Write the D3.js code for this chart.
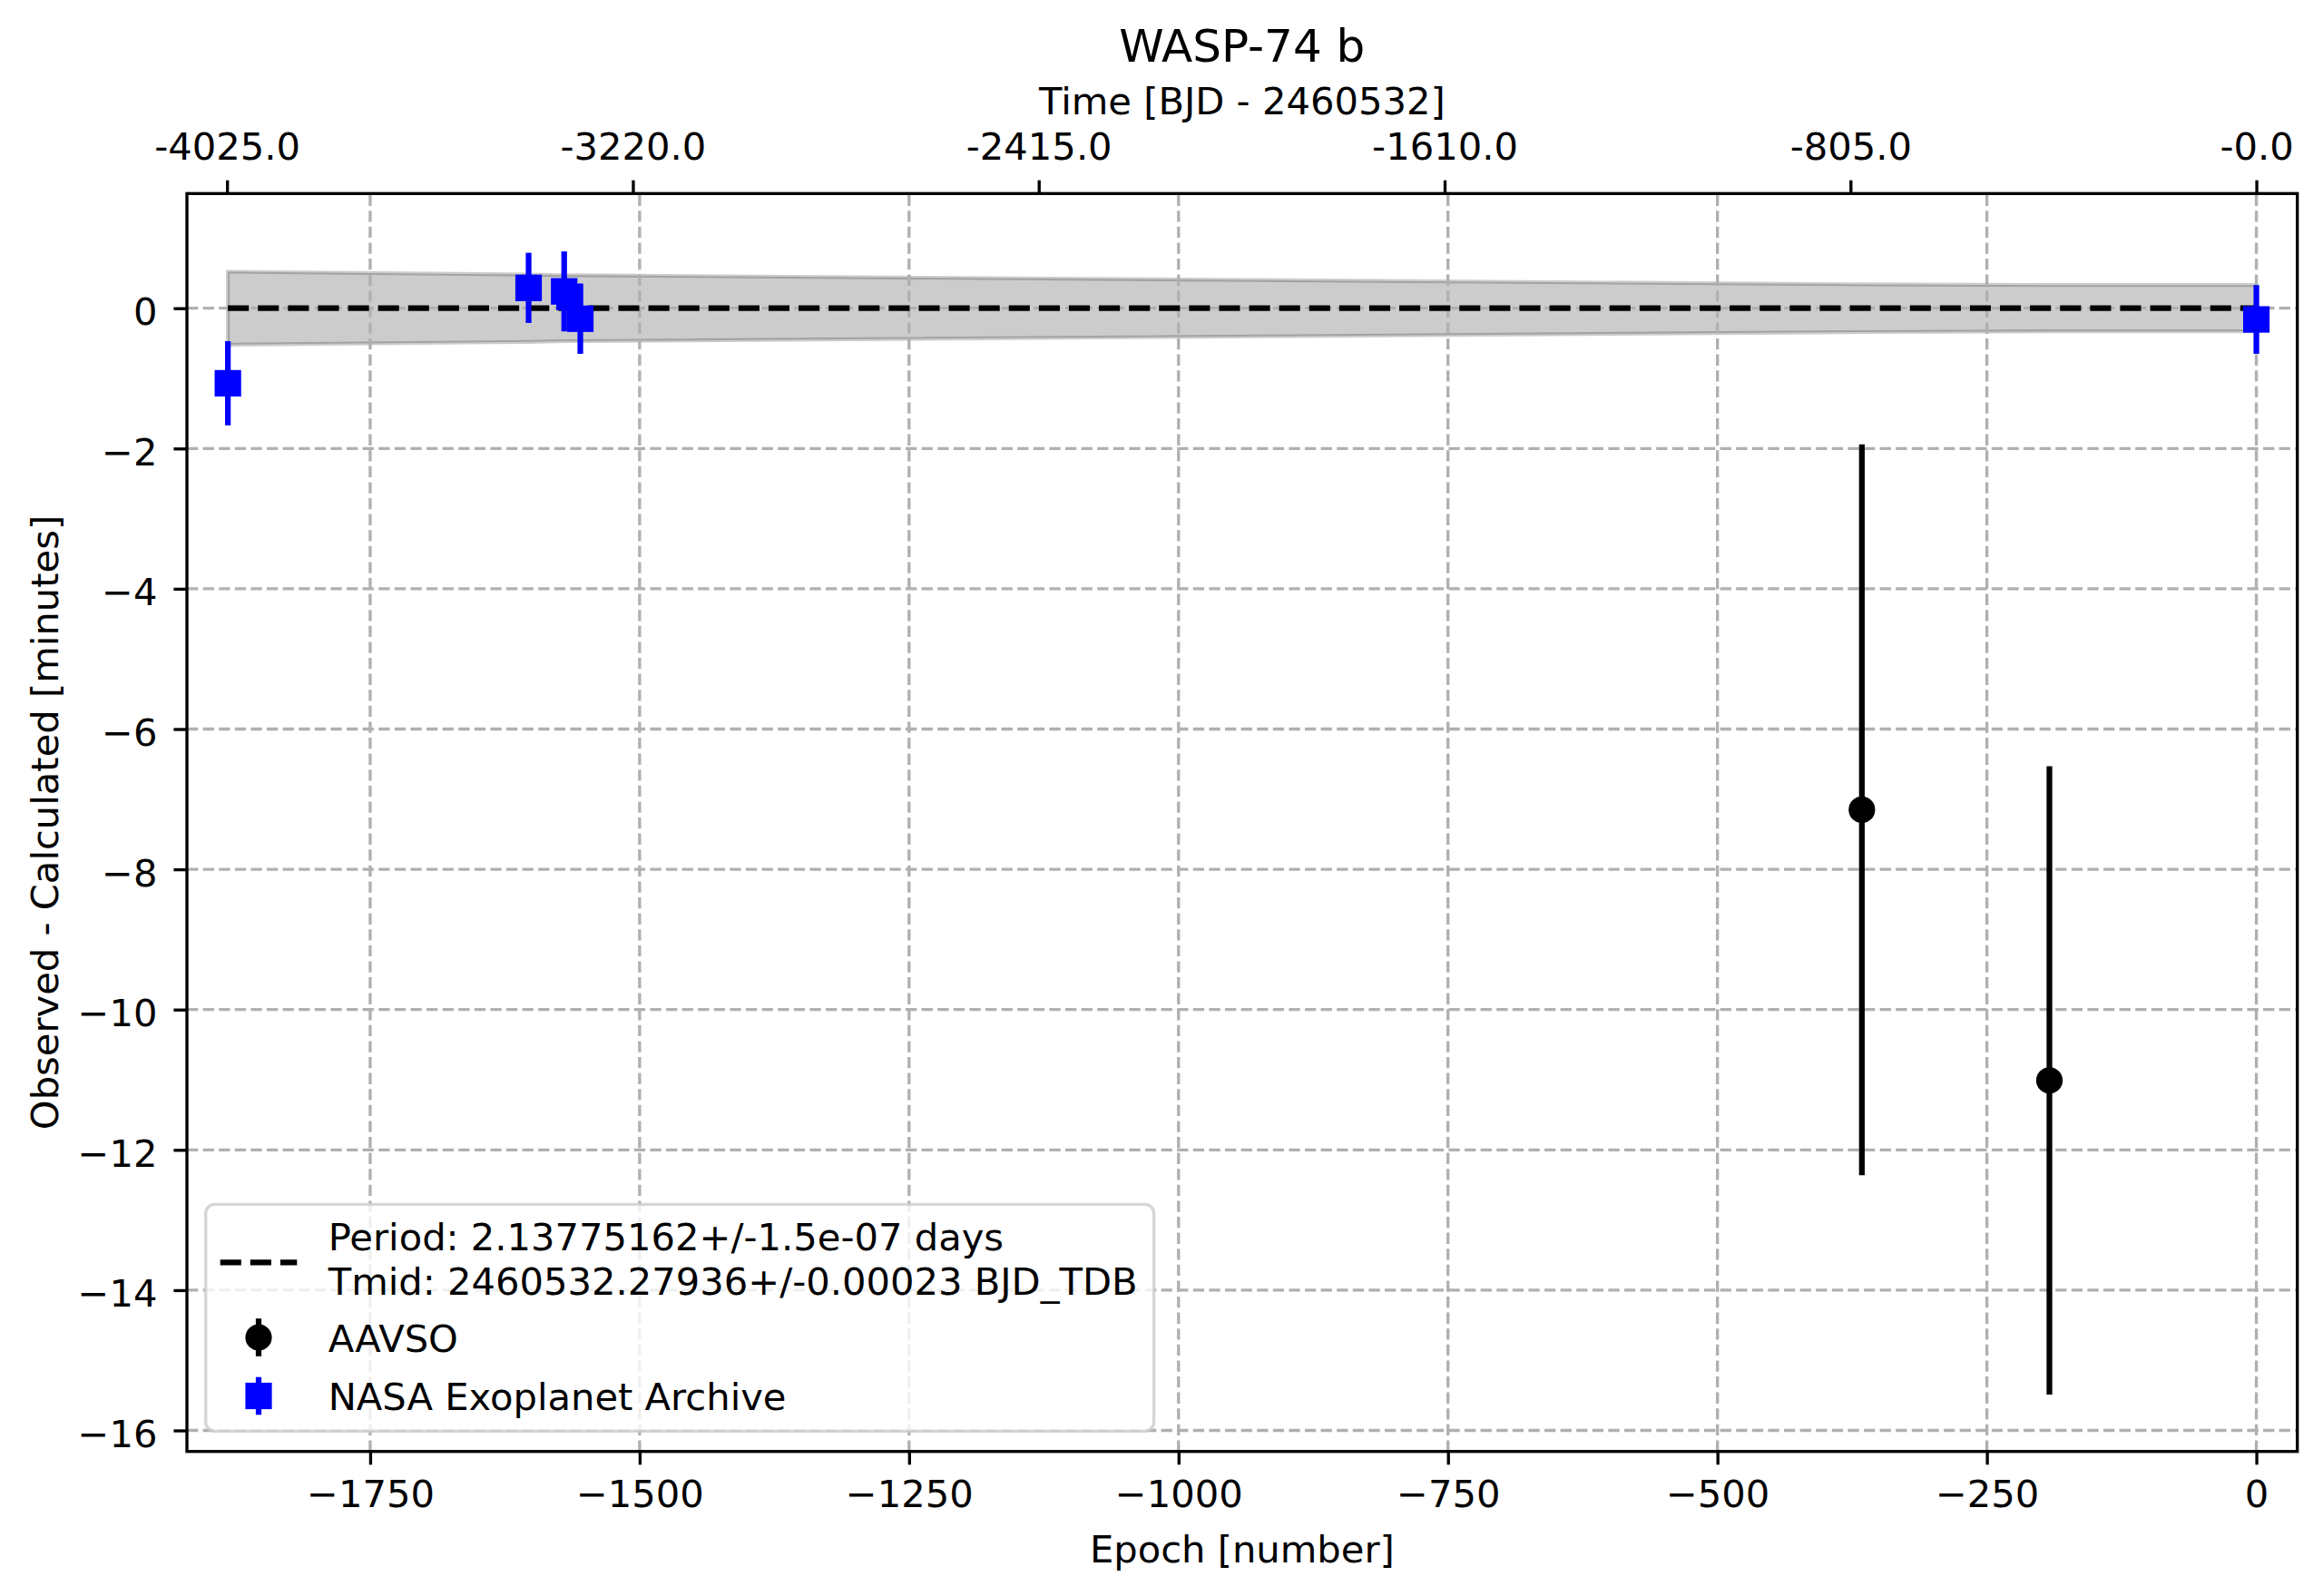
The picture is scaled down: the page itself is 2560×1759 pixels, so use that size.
<!DOCTYPE html>
<html>
<head>
<meta charset="utf-8">
<script src="https://cdn.jsdelivr.net/npm/d3@7"></script>
<style>
  body { margin: 0; background: #fff; }
  text { font-family: "DejaVu Sans", sans-serif; }
</style>
</head>
<body>
<div id="chart"></div>
<script>
const width = 2560;
const height = 1759;

// ephemeris used for the top (time) axis
const periodDays = 2.13775162;

// AAVSO observations (epoch, O-C minutes, 1-sigma error)
const aavsoEpoch = [-366, -192];
const aavsoOC = [-7.15, -11.01];
const aavsoErr = [5.21, 4.48];

// NASA Exoplanet Archive observations
const nasaEpoch = [-1882, -1603, -1570, -1565, -1555, 0];
const nasaOC = [-1.07, 0.29, 0.24, 0.16, -0.15, -0.16];
const nasaErr = [0.60, 0.50, 0.57, 0.15, 0.50, 0.49];

// ephemeris uncertainty band (half width, minutes) at each epoch
const bandEpoch = [-1882, -1603, -1570, -1565, -1555, -366, -192, 0];
const bandHalf = [0.52, 0.48, 0.47, 0.47, 0.47, 0.34, 0.33, 0.33];

// ticks
const xTicks = [-1750, -1500, -1250, -1000, -750, -500, -250, 0];
const yTicks = [-16, -14, -12, -10, -8, -6, -4, -2, 0];
const topTickTimes = [-4025, -3220, -2415, -1610, -805, 0];
const topTickLabels = ["-4025.0", "-3220.0", "-2415.0", "-1610.0", "-805.0", "-0.0"];

const legendLabels = [
  ["Period: 2.13775162+/-1.5e-07 days", "Tmid: 2460532.27936+/-0.00023 BJD_TDB"],
  ["AAVSO"],
  ["NASA Exoplanet Archive"]
];

const fs = 41.67;
const tickLen = 14.6;
const axisLw = 3.33;

const plot = { left: 206, right: 2531.7, top: 213.3, bottom: 1599.7 };

const svg = d3.select("#chart")
  .append("svg")
  .attr("width", width)
  .attr("height", height);

svg.append("rect")
  .attr("width", width)
  .attr("height", height)
  .attr("fill", "white");

const x = d3.scaleLinear()
  .domain([-1920, 38])
  .range([plot.left, plot.right]);

const y = d3.scaleLinear()
  .domain([-16.3, 1.635])
  .range([plot.bottom, plot.top]);

const xTime = d3.scaleLinear()
  .domain(x.domain().map(e => e * periodDays))
  .range(x.range());

// uncertainty band
const band = bandEpoch.map((e, i) => ({ e: e, h: bandHalf[i] }));
svg.append("path")
  .datum(band)
  .attr("d", d3.area()
    .x(d => x(d.e))
    .y0(d => y(-d.h))
    .y1(d => y(d.h)))
  .attr("fill", "black")
  .attr("fill-opacity", 0.2)
  .attr("stroke", "black")
  .attr("stroke-opacity", 0.2)
  .attr("stroke-width", 4.17);

// grid
const grid = svg.append("g");
grid.selectAll(".vgrid")
  .data(xTicks)
  .enter().append("line")
  .attr("x1", d => x(d)).attr("x2", d => x(d))
  .attr("y1", plot.bottom).attr("y2", plot.top);
grid.selectAll(".hgrid")
  .data(yTicks)
  .enter().append("line")
  .attr("x1", plot.left).attr("x2", plot.right)
  .attr("y1", d => y(d)).attr("y2", d => y(d));
grid.selectAll("line")
  .attr("stroke", "#b0b0b0")
  .attr("stroke-width", 3.33)
  .attr("stroke-dasharray", "12.3,5.3");

// linear ephemeris
svg.append("path")
  .datum(bandEpoch)
  .attr("d", d3.line().x(d => x(d)).y(() => y(0)))
  .attr("fill", "none")
  .attr("stroke", "black")
  .attr("stroke-width", 6.25)
  .attr("stroke-dasharray", "23.1,10");

function drawErrorbars(epochs, vals, errs, color, shape) {
  const pts = epochs.map((e, i) => ({ e: e, v: vals[i], s: errs[i] }));
  const g = svg.append("g");
  g.selectAll(".bar")
    .data(pts)
    .enter().append("line")
    .attr("x1", d => x(d.e)).attr("x2", d => x(d.e))
    .attr("y1", d => y(d.v - d.s)).attr("y2", d => y(d.v + d.s))
    .attr("stroke", color)
    .attr("stroke-width", 6.25);
  if (shape === "circle") {
    g.selectAll(".mk")
      .data(pts)
      .enter().append("circle")
      .attr("cx", d => x(d.e))
      .attr("cy", d => y(d.v))
      .attr("r", 14.6)
      .attr("fill", color);
  } else {
    g.selectAll(".mk")
      .data(pts)
      .enter().append("rect")
      .attr("x", d => x(d.e) - 14.6)
      .attr("y", d => y(d.v) - 14.6)
      .attr("width", 29.2)
      .attr("height", 29.2)
      .attr("fill", color);
  }
}

drawErrorbars(aavsoEpoch, aavsoOC, aavsoErr, "black", "circle");
drawErrorbars(nasaEpoch, nasaOC, nasaErr, "blue", "square");

// frame
svg.append("rect")
  .attr("x", plot.left)
  .attr("y", plot.top)
  .attr("width", plot.right - plot.left)
  .attr("height", plot.bottom - plot.top)
  .attr("fill", "none")
  .attr("stroke", "black")
  .attr("stroke-width", axisLw);

// axes
const fmt = d3.format("d");

const xAxis = svg.append("g")
  .attr("transform", `translate(0,${plot.bottom})`)
  .call(d3.axisBottom(x).tickValues(xTicks).tickFormat(fmt)
    .tickSize(tickLen).tickSizeOuter(0).tickPadding(tickLen));
xAxis.selectAll("text").attr("dy", "0.77em");

const yAxis = svg.append("g")
  .attr("transform", `translate(${plot.left},0)`)
  .call(d3.axisLeft(y).tickValues(yTicks).tickFormat(fmt)
    .tickSize(tickLen).tickSizeOuter(0).tickPadding(tickLen));
yAxis.selectAll("text").attr("x", -32.5).attr("dy", "0.43em");

const topAxis = svg.append("g")
  .attr("transform", `translate(0,${plot.top})`)
  .call(d3.axisTop(xTime).tickValues(topTickTimes)
    .tickFormat((d, i) => topTickLabels[i])
    .tickSize(tickLen).tickSizeOuter(0).tickPadding(22.9));

[xAxis, yAxis, topAxis].forEach(a => {
  a.select(".domain").remove();
  a.selectAll("line").attr("stroke", "black").attr("stroke-width", axisLw);
  a.selectAll("text")
    .attr("fill", "black")
    .style("font-size", fs + "px")
    .style("font-family", "DejaVu Sans");
});

// labels
const cx = (plot.left + plot.right) / 2;
const cy = (plot.top + plot.bottom) / 2;

svg.append("text")
  .attr("x", cx).attr("y", 68.3)
  .attr("text-anchor", "middle")
  .style("font-size", "50px")
  .text("WASP-74 b");

svg.append("text")
  .attr("x", cx).attr("y", 126)
  .attr("text-anchor", "middle")
  .style("font-size", fs + "px")
  .text("Time [BJD - 2460532]");

svg.append("text")
  .attr("x", cx).attr("y", 1721.7)
  .attr("text-anchor", "middle")
  .style("font-size", fs + "px")
  .text("Epoch [number]");

svg.append("text")
  .attr("transform", `translate(63.5,${cy}) rotate(-90)`)
  .attr("text-anchor", "middle")
  .style("font-size", fs + "px")
  .text("Observed - Calculated [minutes]");

// legend
const legend = svg.append("g");
const legBox = legend.append("rect")
  .attr("x", 226.7)
  .attr("y", 1327.3)
  .attr("height", 1577.3 - 1327.3)
  .attr("rx", 10).attr("ry", 10)
  .attr("fill", "white")
  .attr("fill-opacity", 0.8)
  .attr("stroke", "#cccccc")
  .attr("stroke-opacity", 0.8)
  .attr("stroke-width", axisLw);

const textX = 361.7;
const handleX = 285;
const rowBaselines = [[1378.3, 1426.7], [1490], [1554]];

legend.append("line")
  .attr("x1", 242.7).attr("x2", 327.3)
  .attr("y1", 1391.3).attr("y2", 1391.3)
  .attr("stroke", "black")
  .attr("stroke-width", 6.25)
  .attr("stroke-dasharray", "23.1,10");

[["black", 1474, "circle"], ["blue", 1538.5, "square"]].forEach(([c, yc, shape]) => {
  legend.append("line")
    .attr("x1", handleX).attr("x2", handleX)
    .attr("y1", yc - 20.8).attr("y2", yc + 20.8)
    .attr("stroke", c).attr("stroke-width", 6.25);
  if (shape === "circle") {
    legend.append("circle").attr("cx", handleX).attr("cy", yc).attr("r", 14.6).attr("fill", c);
  } else {
    legend.append("rect").attr("x", handleX - 14.6).attr("y", yc - 14.6)
      .attr("width", 29.2).attr("height", 29.2).attr("fill", c);
  }
});

let maxW = 0;
legendLabels.forEach((lines, i) => {
  lines.forEach((t, j) => {
    const node = legend.append("text")
      .attr("x", textX)
      .attr("y", rowBaselines[i][j])
      .style("font-size", fs + "px")
      .text(t);
    maxW = Math.max(maxW, node.node().getComputedTextLength());
  });
});
legBox.attr("width", textX + maxW + 18 - 226.7);
</script>
</body>
</html>
